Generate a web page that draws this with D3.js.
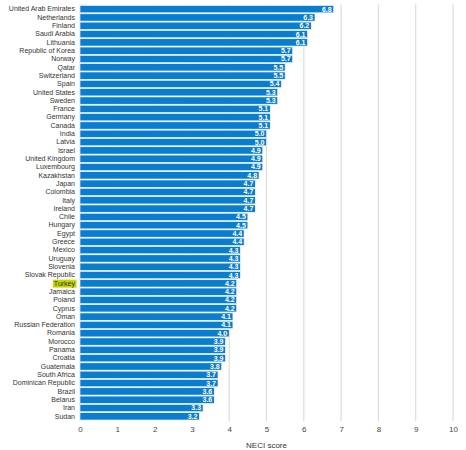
<!DOCTYPE html>
<html>
<head>
<meta charset="utf-8">
<script src="https://cdn.jsdelivr.net/npm/d3@7"></script>
<style>
  body { margin: 0; background: #fff; }
  text { font-family: "Liberation Sans", Arial, sans-serif; }
</style>
</head>
<body>
<svg id="chart"></svg>
<script>
// countries, top to bottom
var countries = ["United Arab Emirates", "Netherlands", "Finland", "Saudi Arabia", "Lithuania",
  "Republic of Korea", "Norway", "Qatar", "Switzerland", "Spain", "United States", "Sweden",
  "France", "Germany", "Canada", "India", "Latvia", "Israel", "United Kingdom", "Luxembourg",
  "Kazakhstan", "Japan", "Colombia", "Italy", "Ireland", "Chile", "Hungary", "Egypt", "Greece",
  "Mexico", "Uruguay", "Slovenia", "Slovak Republic", "Turkey", "Jamaica", "Poland", "Cyprus",
  "Oman", "Russian Federation", "Romania", "Morocco", "Panama", "Croatia", "Guatemala",
  "South Africa", "Dominican Republic", "Brazil", "Belarus", "Iran", "Sudan"];

var scores = [6.8, 6.3, 6.2, 6.1, 6.1, 5.7, 5.7, 5.5, 5.5, 5.4, 5.3, 5.3,
  5.1, 5.1, 5.1, 5.0, 5.0, 4.9, 4.9, 4.9, 4.8, 4.7, 4.7, 4.7, 4.7, 4.5, 4.5, 4.4, 4.4,
  4.3, 4.3, 4.3, 4.3, 4.2, 4.2, 4.2, 4.2, 4.1, 4.1, 4.0, 3.9, 3.9, 3.9, 3.8,
  3.7, 3.7, 3.6, 3.6, 3.3, 3.2];

var xTicks = [0, 1, 2, 3, 4, 5, 6, 7, 8, 9, 10];
var highlight = "Turkey";

var data = countries.map(function(c, i) { return {y: c, x: scores[i]}; });

var W = 466, H = 450;
var margin = {top: 4.5, right: 13, bottom: 29, left: 80},
    width = W - margin.left - margin.right,
    height = H - margin.top - margin.bottom;

var svg = d3.select("#chart")
    .attr("width", W)
    .attr("height", H)
    .append("g")
    .attr("transform", "translate(" + margin.left + "," + margin.top + ")");

var x = d3.scaleLinear().domain([0, 10]).range([0, width]);
var y = d3.scaleBand().domain(countries).range([0, height]).padding(0.12);

// faint strip at the left edge
svg.append("rect")
    .attr("x", 0).attr("y", 0)
    .attr("width", x(0.23)).attr("height", height)
    .attr("fill", "#ececec");

// gridlines
svg.selectAll(".grid")
    .data(xTicks)
    .enter().append("line")
    .attr("x1", function(d) { return x(d); })
    .attr("x2", function(d) { return x(d); })
    .attr("y1", 0).attr("y2", height)
    .attr("stroke", "#dcdcdc")
    .attr("stroke-width", 1.2);

// bars
svg.selectAll(".bar")
    .data(data)
    .enter().append("rect")
    .attr("class", "bar")
    .attr("x", 0)
    .attr("y", function(d) { return y(d.y); })
    .attr("width", function(d) { return x(d.x); })
    .attr("height", y.bandwidth())
    .attr("fill", "#0a7dcf")
    .attr("stroke", "#ffffff")
    .attr("stroke-width", 0.6);

// value labels
svg.selectAll(".val")
    .data(data)
    .enter().append("text")
    .attr("x", function(d) { return x(d.x) - 2; })
    .attr("y", function(d) { return y(d.y) + y.bandwidth() / 2; })
    .attr("dy", "0.35em")
    .attr("text-anchor", "end")
    .attr("font-size", "7px")
    .attr("font-weight", "bold")
    .attr("fill", "#ffffff")
    .text(function(d) { return d.x.toFixed(1); });

// y axis labels
var yAxis = svg.append("g")
    .call(d3.axisLeft(y).tickSize(0).tickPadding(5));
yAxis.select(".domain").remove();
yAxis.selectAll("text")
    .attr("font-size", "7px")
    .attr("fill", "#333")
    .style("font-family", "'Liberation Sans', Arial, sans-serif");

// highlight box behind Turkey
yAxis.selectAll(".tick").each(function(d) {
    if (d !== highlight) return;
    var t = d3.select(this).select("text");
    var bb = t.node().getBBox();
    d3.select(this).insert("rect", "text")
        .attr("x", bb.x - 1).attr("y", bb.y)
        .attr("width", bb.width + 2).attr("height", bb.height)
        .attr("fill", "#c6d600");
});

// x axis
var xAxis = svg.append("g")
    .attr("transform", "translate(0," + height + ")")
    .call(d3.axisBottom(x).tickValues(xTicks).tickSize(0).tickPadding(5));
xAxis.select(".domain").remove();
xAxis.selectAll("text")
    .attr("font-size", "8px")
    .attr("fill", "#444")
    .style("font-family", "'Liberation Sans', Arial, sans-serif");

svg.append("text")
    .attr("x", x(5))
    .attr("y", height + 27)
    .attr("text-anchor", "middle")
    .attr("font-size", "8px")
    .attr("fill", "#333")
    .text("NECI score");
</script>
</body>
</html>
